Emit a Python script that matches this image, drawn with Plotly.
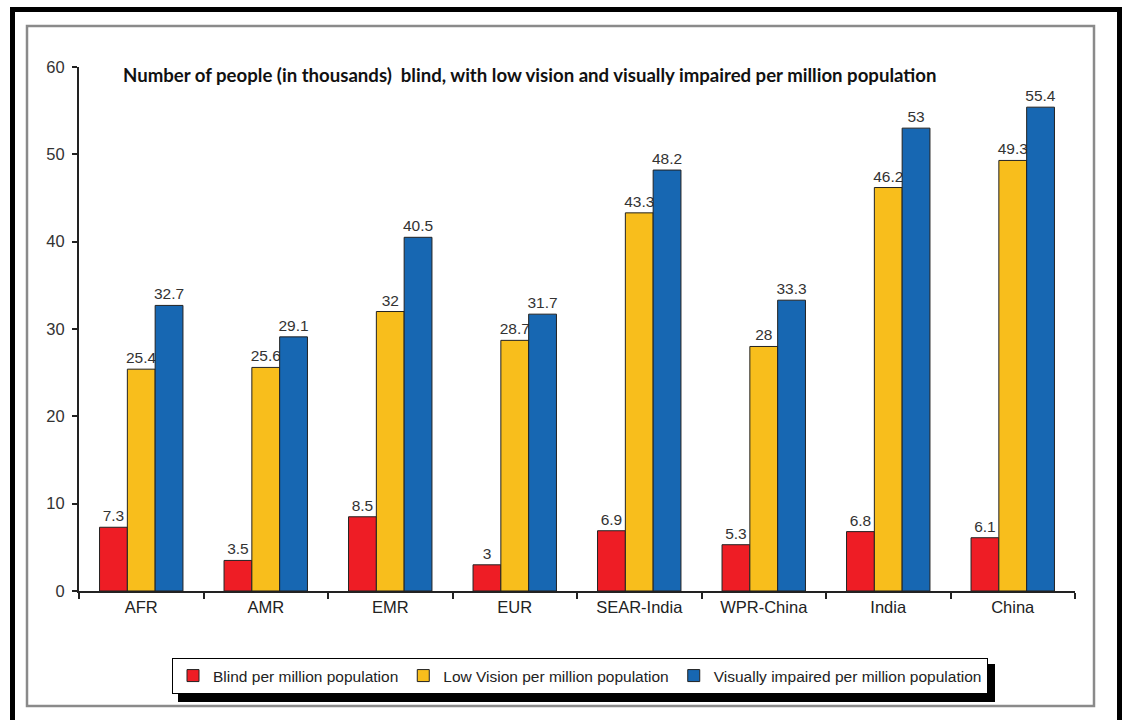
import plotly.graph_objects as go

categories = ["AFR", "AMR", "EMR", "EUR", "SEAR-India", "WPR-China", "India", "China"]
blind = [7.3, 3.5, 8.5, 3, 6.9, 5.3, 6.8, 6.1]
low_vision = [25.4, 25.6, 32, 28.7, 43.3, 28, 46.2, 49.3]
visually_impaired = [32.7, 29.1, 40.5, 31.7, 48.2, 33.3, 53, 55.4]
series_names = ["Blind per million population", "Low Vision per million population",
                "Visually impaired per million population"]
title_text = "Number of people (in thousands)  blind, with low vision and visually impaired per million population"
y_ticks = [0, 10, 20, 30, 40, 50, 60]

colors = ["#EE1D25", "#F8BE1C", "#1767B2"]

W, H = 1124, 720
L, R, T, B = 79, 49, 67, 129
pw, ph = W - L - R, H - T - B


def px(x):
    return (x - L) / pw


def py(y):
    return (H - B - y) / ph


fig = go.Figure()
for name, vals, col in zip(series_names, [blind, low_vision, visually_impaired], colors):
    fig.add_trace(go.Bar(
        x=categories, y=vals, name=name,
        marker=dict(color=col, line=dict(color="#222222", width=1)),
        text=[str(v) for v in vals], textposition="outside", constraintext="none",
        textfont=dict(family="Liberation Sans, Arial, sans-serif", size=15.5, color="#333333"),
        cliponaxis=False,
    ))

shapes = [
    # outer thick black frame
    dict(type="rect", xref="paper", yref="paper", x0=px(12.5), x1=px(1119.5), y0=py(740), y1=py(9.5),
         line=dict(color="black", width=5), layer="below"),
    # inner gray frame
    dict(type="rect", xref="paper", yref="paper", x0=px(27), x1=px(1094), y0=py(706), y1=py(26),
         line=dict(color="#8a8a8a", width=2.5), layer="below"),
    # legend shadow
    dict(type="rect", xref="paper", yref="paper", x0=px(178), x1=px(995), y0=py(702), y1=py(664),
         line=dict(width=0), fillcolor="black", layer="below"),
]

fig.update_layout(
    width=W, height=H,
    margin=dict(l=L, r=R, t=T, b=B),
    paper_bgcolor="white", plot_bgcolor="white",
    barmode="group", bargap=0.33, bargroupgap=0,
    showlegend=True,
    legend=dict(orientation="h", x=px(172), xanchor="left", y=py(658), yanchor="top",
                bgcolor="white", bordercolor="black", borderwidth=1,
                font=dict(family="Liberation Sans, Arial, sans-serif", size=15.5, color="#222"),
                itemwidth=30, tracegroupgap=0),
    shapes=shapes,
    annotations=[dict(text="<b>" + title_text + "</b>", xref="paper", yref="paper",
                      x=px(529), y=py(75), xanchor="center", yanchor="middle", showarrow=False,
                      font=dict(family="Lato, sans-serif", size=18.6, color="#111"))],
    xaxis=dict(type="category", range=[-0.5, 7.5], showline=True, linecolor="#222", linewidth=2,
               ticks="outside", ticklen=6, tickcolor="#222", tickwidth=1.5, tickson="boundaries",
               showgrid=False, tickfont=dict(family="Liberation Sans, Arial, sans-serif", size=16.5, color="#222")),
    yaxis=dict(range=[0, 60], tickvals=y_ticks, showline=True, linecolor="#222", linewidth=2,
               ticks="outside", ticklen=5, tickcolor="#222", tickwidth=1.5, showgrid=False, zeroline=False,
               ticklabelstandoff=4,
               tickfont=dict(family="Liberation Sans, Arial, sans-serif", size=16.5, color="#333")),
)

fig.write_html("out.html")
